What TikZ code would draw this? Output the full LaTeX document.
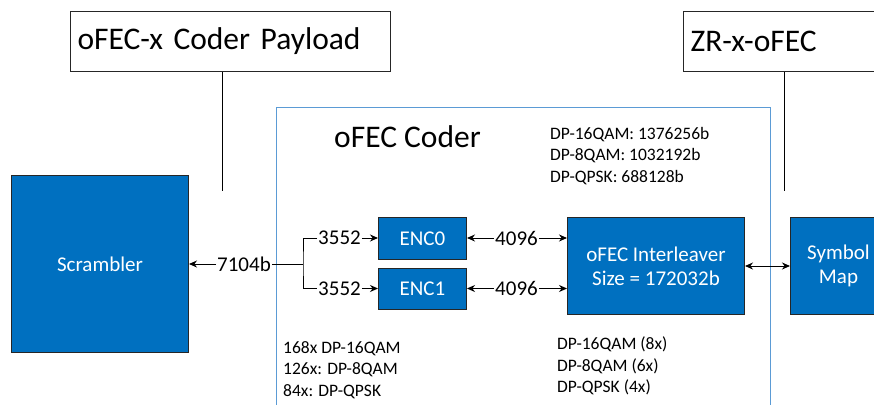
\documentclass[tikz,border=0pt]{standalone}
\usepackage{fontspec}
\setmainfont{Carlito}
\usetikzlibrary{arrows.meta,calc}
\definecolor{boxblue}{HTML}{0070C0}
\definecolor{frameblue}{HTML}{5B9BD5}
\begin{document}
\begin{tikzpicture}[x=1pt,y=-1pt,
 blk/.style={draw=black!85, line width=1pt, fill=boxblue, text=white, font=\fontsize{21}{24}\selectfont, align=center, inner sep=0, anchor=north west},
 lbl/.style={font=\fontsize{21}{24}\selectfont, inner sep=1pt},
 info/.style={font=\fontsize{17.5}{21.5}\selectfont, align=left, inner sep=0, anchor=west},
 bigbox/.style={draw=black!85, line width=1pt, anchor=north west, minimum height=60pt, inner xsep=7pt, align=left, font=\fontsize{31.5}{36}\selectfont},
 arr/.style={-{Stealth[length=8pt,width=7pt]}, line width=1pt},
 darr/.style={{Stealth[length=8pt,width=7pt]}-{Stealth[length=8pt,width=7pt]}, line width=1pt},
 ln/.style={line width=1pt}]
\useasboundingbox (0,0) rectangle (874,404);
\clip (0,0) rectangle (874,404);
% title boxes
\node[bigbox, text width=306pt] (pay) at (70,11) {oFEC-x Coder Payload};
\node[bigbox, text width=200pt] (zr) at (683,11) {ZR-x-oFEC};
\coordinate (payend) at (222,191);
\coordinate (zrend) at (784,191);
\draw[ln] (pay.south -| payend) -- (payend);
\draw[ln] (zr.south -| zrend) -- (zrend);
% frame
\node[draw=frameblue, line width=1.2pt, anchor=north west, minimum width=494pt, minimum height=330pt, inner sep=0] (frame) at (276,107) {};
\node[font=\fontsize{31.5}{36}\selectfont, inner sep=0, anchor=west] (title) at (334,137) {oFEC Coder};
\node[info] (sizes) at (550,156) {DP-16QAM: 1376256b\\DP-8QAM: 1032192b\\DP-QPSK: 688128b};
\node[info] (cnt) at (283,370) {168x DP-16QAM\\126x: DP-8QAM\\84x: DP-QPSK};
\node[info] (mult) at (557,366) {DP-16QAM (8x)\\DP-8QAM (6x)\\DP-QPSK (4x)};
% blocks
\node[blk, minimum width=177pt, minimum height=177pt] (scr) at (11,175) {Scrambler};
\node[blk, minimum width=88pt, minimum height=42pt] (enc0) at (378,217) {ENC0};
\node[blk, minimum width=88pt, minimum height=41pt] (enc1) at (378,268) {ENC1};
\node[blk, minimum width=177pt, minimum height=97pt] (il) at (567,217) {oFEC Interleaver\\Size = 172032b};
\node[blk, minimum width=96pt, minimum height=97pt] (sym) at (790,217) {Symbol\\Map};
% connectors
\node[lbl] (l7104) at (244,264) {7104b};
\draw[arr] (l7104.west) -- (scr.east |- l7104);
\coordinate (split) at (303,264);
\draw[ln] (l7104.east) -- (split);
\node[lbl] (l3552a) at (339.5,238) {3552};
\node[lbl] (l3552b) at (339.5,288.5) {3552};
\draw[ln] (l3552a.west) -| (split) |- (l3552b.west);
\draw[arr] (l3552a.east) -- (enc0.west |- l3552a);
\draw[arr] (l3552b.east) -- (enc1.west |- l3552b);
\node[lbl] (l4096a) at (516.5,238) {4096};
\node[lbl] (l4096b) at (516.5,288.5) {4096};
\draw[arr] (l4096a.west) -- (enc0.east |- l4096a);
\draw[arr] (l4096a.east) -- (il.west |- l4096a);
\draw[arr] (l4096b.west) -- (enc1.east |- l4096b);
\draw[arr] (l4096b.east) -- (il.west |- l4096b);
\draw[darr] (il.east) -- (sym.west);
\end{tikzpicture}
\end{document}
